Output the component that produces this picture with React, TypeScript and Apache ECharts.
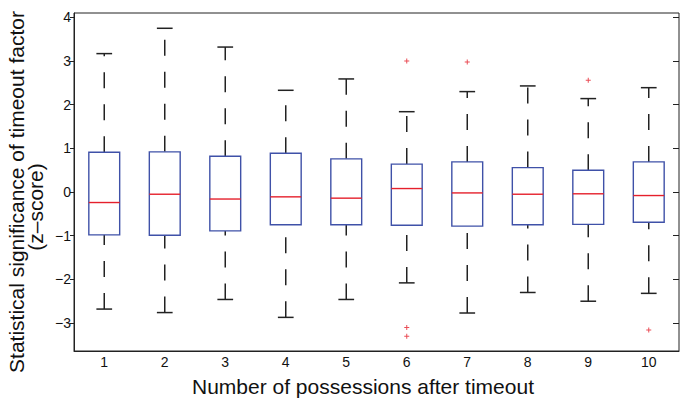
import React, { useEffect, useRef } from "react";
import * as echarts from "echarts";

const categories = ["1", "2", "3", "4", "5", "6", "7", "8", "9", "10"];
const whiskerLow = [-2.68, -2.76, -2.46, -2.87, -2.46, -2.08, -2.77, -2.30, -2.50, -2.32];
const q1 = [-0.98, -0.99, -0.89, -0.75, -0.75, -0.76, -0.78, -0.75, -0.74, -0.69];
const medians = [-0.24, -0.05, -0.16, -0.11, -0.14, 0.08, -0.02, -0.05, -0.04, -0.08];
const q3 = [0.91, 0.92, 0.82, 0.89, 0.76, 0.64, 0.69, 0.56, 0.50, 0.69];
const whiskerHigh = [3.17, 3.75, 3.32, 2.33, 2.59, 1.84, 2.30, 2.43, 2.14, 2.39];
const outliers: [number, number][] = [
  [5, 3.0],
  [5, -3.10],
  [5, -3.30],
  [6, 2.98],
  [8, 2.56],
  [9, -3.16],
];
const yTicks = [-3, -2, -1, 0, 1, 2, 3, 4];

const FONT = "'Liberation Sans', Arial, Helvetica, sans-serif";
const BLUE = "#3f51a8";
const RED = "#e5202c";
const BLACK = "#222222";

export default function App() {
  const ref = useRef<HTMLDivElement>(null);
  useEffect(() => {
    if (!ref.current) return;
    const chart = echarts.init(ref.current, undefined, { renderer: "svg" });
    const boxData = categories.map((_, i) => [i, whiskerLow[i], q1[i], medians[i], q3[i], whiskerHigh[i]]);
    const fmt = (v: number) => String(v).replace("-", "\u2212");
    chart.setOption({
      animation: false,
      backgroundColor: "#ffffff",
      grid: {
        left: 74,
        right: 6,
        top: 13,
        bottom: 49,
        show: true,
        borderColor: BLACK,
        borderWidth: 1,
        backgroundColor: "transparent",
      },
      xAxis: {
        type: "category",
        data: categories,
        boundaryGap: true,
        axisLine: { show: true, onZero: false, lineStyle: { color: BLACK, width: 1 } },
        axisTick: { show: false },
        axisLabel: { color: "#111", fontSize: 14, fontFamily: FONT, margin: 4 },
        splitLine: { show: false },
      },
      yAxis: [
        {
          type: "value",
          min: -3.64,
          max: 4.1,
          position: "left",
          axisLine: { show: true, lineStyle: { color: BLACK, width: 1 } },
          axisTick: { show: true, length: 4, inside: false, customValues: yTicks, lineStyle: { color: BLACK } },
          axisLabel: {
            color: "#111",
            fontSize: 14,
            fontFamily: FONT,
            margin: 3,
            customValues: yTicks,
            formatter: (v: number) => fmt(v),
          },
          splitLine: { show: false },
        },
        {
          type: "value",
          min: -3.64,
          max: 4.1,
          position: "right",
          axisLine: { show: false },
          axisTick: { show: true, length: 6, inside: true, customValues: yTicks, lineStyle: { color: BLACK } },
          axisLabel: { show: false },
          splitLine: { show: false },
        },
      ],
      graphic: [
        {
          type: "text",
          x: 16,
          y: 192,
          rotation: Math.PI / 2,
          style: {
            text: "Statistical significance of timeout factor",
            fill: "#111",
            font: `21px ${FONT}`,
            textAlign: "center",
            textVerticalAlign: "middle",
          },
        },
        {
          type: "text",
          x: 35,
          y: 207,
          rotation: Math.PI / 2,
          style: {
            text: "(z\u2013score)",
            fill: "#111",
            font: `21px ${FONT}`,
            textAlign: "center",
            textVerticalAlign: "middle",
          },
        },
        {
          type: "text",
          x: 363,
          y: 386,
          style: {
            text: "Number of possessions after timeout",
            fill: "#111",
            font: `21px ${FONT}`,
            textAlign: "center",
            textVerticalAlign: "middle",
          },
        },
      ],
      series: [
        {
          type: "custom",
          data: boxData,
          clip: false,
          renderItem: (params: any, api: any) => {
            const idx = api.value(0);
            const lo = api.coord([idx, api.value(1)]);
            const b1 = api.coord([idx, api.value(2)]);
            const md = api.coord([idx, api.value(3)]);
            const b3 = api.coord([idx, api.value(4)]);
            const hi = api.coord([idx, api.value(5)]);
            const band = api.size([1, 0])[0];
            const bw = band * 0.51;
            const cw = band * 0.26;
            const x = lo[0];
            const wStyle = { stroke: BLACK, lineWidth: 1.5, lineDash: [16, 16], fill: "none" };
            const cStyle = { stroke: BLACK, lineWidth: 1.5, fill: "none" };
            return {
              type: "group",
              children: [
                { type: "line", shape: { x1: x, y1: lo[1], x2: x, y2: b1[1] }, style: wStyle },
                { type: "line", shape: { x1: x, y1: b3[1], x2: x, y2: hi[1] }, style: wStyle },
                { type: "line", shape: { x1: x - cw / 2, y1: lo[1], x2: x + cw / 2, y2: lo[1] }, style: cStyle },
                { type: "line", shape: { x1: x - cw / 2, y1: hi[1], x2: x + cw / 2, y2: hi[1] }, style: cStyle },
                {
                  type: "rect",
                  shape: { x: x - bw / 2, y: b3[1], width: bw, height: b1[1] - b3[1] },
                  style: { stroke: BLUE, lineWidth: 1.4, fill: "#ffffff" },
                },
                { type: "line", shape: { x1: x - bw / 2, y1: md[1], x2: x + bw / 2, y2: md[1] }, style: { stroke: RED, lineWidth: 1.4 } },
              ],
            };
          },
        },
        {
          type: "scatter",
          data: outliers,
          symbol: "path://M2,0H3V2H5V3H3V5H2V3H0V2H2Z",
          symbolSize: 5,
          itemStyle: { color: RED },
          z: 5,
        },
      ],
    });
    return () => chart.dispose();
  }, []);
  return (
    <div
      ref={ref}
      style={{ position: "absolute", left: 0, top: 0, width: 685, height: 400, background: "#fff" }}
    />
  );
}
